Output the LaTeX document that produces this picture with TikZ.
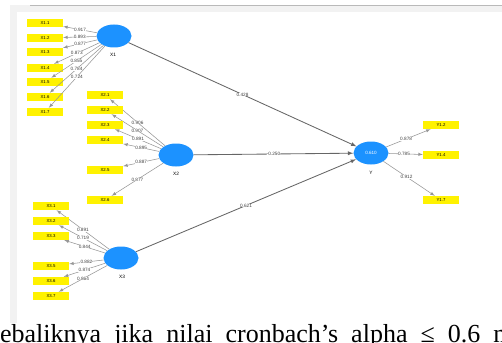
\documentclass[tikz,border=0pt]{standalone}
\usepackage{fontspec}
\setmainfont{Liberation Serif}
\newfontfamily\plsfont{Liberation Sans}
\usetikzlibrary{shapes.geometric,arrows}
\definecolor{lvblue}{RGB}{28,146,255}
\definecolor{loadgray}{RGB}{150,150,150}
\definecolor{panelgray}{RGB}{242,242,242}
\tikzset{
  latent/.style={ellipse,fill=lvblue,minimum width=35pt,minimum height=23pt,inner sep=0pt},
  indic/.style={rectangle,fill=yellow,minimum width=36pt,minimum height=8pt,inner sep=0pt,
    font=\plsfont\fontsize{4.3}{5}\selectfont},
  lvname/.style={font=\plsfont\fontsize{4.8}{5}\selectfont},
  loading/.style={-latex,loadgray,line width=0.55pt},
  structural/.style={-latex,black!60,line width=0.85pt},
  coef/.style={font=\plsfont\fontsize{4.7}{5}\selectfont,text=black!75,fill=white,inner sep=0.2pt}
}
\begin{document}
\begin{tikzpicture}[x=1pt,y=-1pt]
		\useasboundingbox (0,0) rectangle (502,342);
		\clip (0,0) rectangle (502,342);

		% panel
		\fill[panelgray] (10,5) rectangle (502,12);
		\fill[panelgray] (10,5) rectangle (17,323);
		\draw[gray!55,line width=0.6pt] (30,5) -- (502,5);

		% latent variables
		\node[latent] (x1) at (114,36) {};
		\node[lvname] (x1name) at (113,55) {X1};
		\node[latent] (x2) at (176,155) {};
		\node[lvname] (x2name) at (176,174) {X2};
		\node[latent] (x3) at (121,258) {};
		\node[lvname] (x3name) at (122,277) {X3};
		\node[latent,font=\plsfont\fontsize{4.6}{5}\selectfont,text=white] (y) at (371,153) {0.610};
		\node[lvname] (yname) at (371,173) {Y};

		% indicators of X1
		\foreach \i/\y/\l in {1/23/0.917,2/38/0.893,3/52/0.877,4/68/0.873,5/82/0.855,6/97/0.784,7/112/0.724}{
			\node[indic] (x1\i) at (45,\y) {X1.\i};
			\draw[loading] (x1) -- node[coef] {\l} (x1\i);
		}

		% indicators of X2
		\foreach \i/\y/\l in {1/95/0.906,2/110/0.907,3/125/0.891,4/140/0.895,5/170/0.887,6/200/0.877}{
			\node[indic] (x2\i) at (105,\y) {X2.\i};
			\draw[loading] (x2) -- node[coef] {\l} (x2\i);
		}

		% indicators of X3
		\foreach \i/\y/\l in {1/206/0.891,2/221/0.719,3/236/0.844,5/266/0.882,6/281/0.874,7/296/0.864}{
			\node[indic] (x3\i) at (51,\y) {X3.\i};
			\draw[loading] (x3) -- node[coef] {\l} (x3\i);
		}

		% indicators of Y
		\foreach \i/\y/\l in {2/125/0.878,4/155/0.785,7/200/0.912}{
			\node[indic] (y\i) at (441,\y) {Y1.\i};
			\draw[loading] (y) -- node[coef,pos=0.45] {\l} (y\i);
		}

		% inner model
		\draw[structural] (x1) -- node[coef] {0.428} (y);
		\draw[structural] (x2) -- node[coef] {-0.250} (y);
		\draw[structural] (x3) -- node[coef] {0.621} (y);

		% text below the figure
		\node[anchor=base west,inner sep=0pt,font=\fontsize{26}{28}\selectfont] (caption) at (-14.5,342)
			{\makebox[564pt][s]{Sebaliknya jika nilai cronbach’s alpha ≤ 0.6 maka}};
	\end{tikzpicture}
\end{document}
